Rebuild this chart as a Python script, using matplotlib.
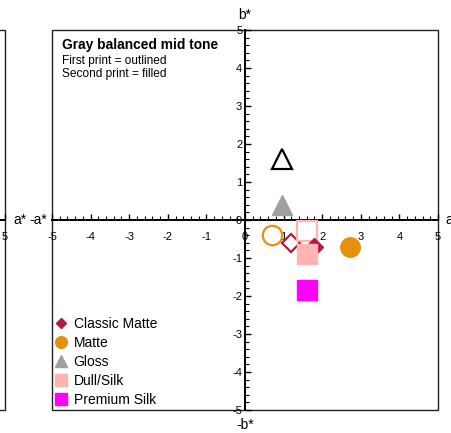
import matplotlib
matplotlib.use('Agg')
import matplotlib.pyplot as plt
from matplotlib.patches import Rectangle
from matplotlib.ticker import MultipleLocator

plt.rcParams['font.family'] = ['Liberation Sans', 'DejaVu Sans']

# series: (name, color, marker, first print (outlined), second print (filled))
names = ["Classic Matte", "Matte", "Gloss", "Dull/Silk", "Premium Silk"]
colors = ["#B01C3C", "#E6900F", "#A0A0A0", "#FFB4B4", "#FF00FF"]
markers = ["D", "o", "^", "s", "s"]
first_a = [1.18, 0.70, 0.95, 1.60, None]
first_b = [-0.60, -0.40, 1.60, -0.28, None]
second_a = [1.80, 2.72, 0.95, 1.60, 1.60]
second_b = [-0.72, -0.72, 0.40, -0.90, -1.85]
first_edge = ["#B01C3C", "#E6900F", "black", "#FFB4B4", None]
sizes = [9, 14, 14, 14, 14]

title = "Gray balanced mid tone"
subtitle = ["First print = outlined", "Second print = filled"]


def style_axes(ax):
    ax.set_xlim(-5, 5)
    ax.set_ylim(-5, 5)
    for s in ['top', 'right']:
        ax.spines[s].set_visible(False)
    ax.spines['left'].set_position(('data', 0))
    ax.spines['bottom'].set_position(('data', 0))
    ax.spines['left'].set_linewidth(1.4)
    ax.spines['bottom'].set_linewidth(1.4)
    ax.xaxis.set_major_locator(MultipleLocator(1))
    ax.yaxis.set_major_locator(MultipleLocator(1))
    ax.xaxis.set_minor_locator(MultipleLocator(0.2))
    ax.yaxis.set_minor_locator(MultipleLocator(0.2))
    ax.tick_params(which='both', direction='in', labelsize=8, color='black')
    ax.tick_params(which='major', length=4, width=1)
    ax.tick_params(which='minor', length=3, width=0.8)
    ax.tick_params(axis='x', pad=9)
    ax.tick_params(axis='y', pad=2)
    ax.set_xticklabels([])
    ax.set_yticklabels([])
    ax.add_patch(Rectangle((0, 0), 1, 1, transform=ax.transAxes, fill=False,
                           lw=1, edgecolor='#222222', clip_on=False))


fig = plt.figure(figsize=(4.52, 4.33), dpi=100)

# neighbouring chart, only its right edge is visible
ax_l = fig.add_axes([(5 - 386) / 452, 23 / 433, 386 / 452, 380 / 433])
style_axes(ax_l)
ax_l.set_xticks([5])
ax_l.set_xticklabels(["5"])
ax_l.text(1.021, 0.5, "a*", transform=ax_l.transAxes, ha='left', va='center', fontsize=10)

ax = fig.add_axes([52 / 452, 23 / 433, 386 / 452, 380 / 433])
style_axes(ax)
ticks = list(range(-5, 6))
ax.set_xticks(ticks)
ax.set_yticks(ticks)
ax.set_xticklabels([str(t) for t in ticks])
ax.set_yticklabels([str(t) for t in ticks])
ax.patch.set_alpha(0)

# first print (outlined)
for i in range(len(names)):
    if first_a[i] is None:
        continue
    ax.plot(first_a[i], first_b[i], marker=markers[i], ms=sizes[i], mfc='white',
            mec=first_edge[i], mew=1.6, ls='none', zorder=3)

# second print (filled)
for i in range(len(names)):
    ax.plot(second_a[i], second_b[i], marker=markers[i], ms=sizes[i], color=colors[i],
            ls='none', zorder=4, label=names[i])

ax.legend(loc='lower left', bbox_to_anchor=(0.0, 0.0), frameon=False, fontsize=10,
          markerscale=0.6, handlelength=0.8, handletextpad=0.5, labelspacing=0.36,
          borderaxespad=0.1, borderpad=0.15)

ax.text(0.025, 0.979, title, transform=ax.transAxes, fontsize=9.9, fontweight='bold',
        va='top', ha='left')
ax.text(0.025, 0.935, "\n".join(subtitle), transform=ax.transAxes, fontsize=8.6,
        va='top', ha='left', linespacing=1.1)

ax.text(0.5, 1.02, "b*", transform=ax.transAxes, ha='center', va='bottom', fontsize=10)
ax.text(0.5, -0.02, "-b*", transform=ax.transAxes, ha='center', va='top', fontsize=10)
ax.text(-0.012, 0.5, "-a*", transform=ax.transAxes, ha='right', va='center', fontsize=10)
ax.text(1.02, 0.5, "a*", transform=ax.transAxes, ha='left', va='center', fontsize=10)

fig.savefig("out.png", dpi=100)
